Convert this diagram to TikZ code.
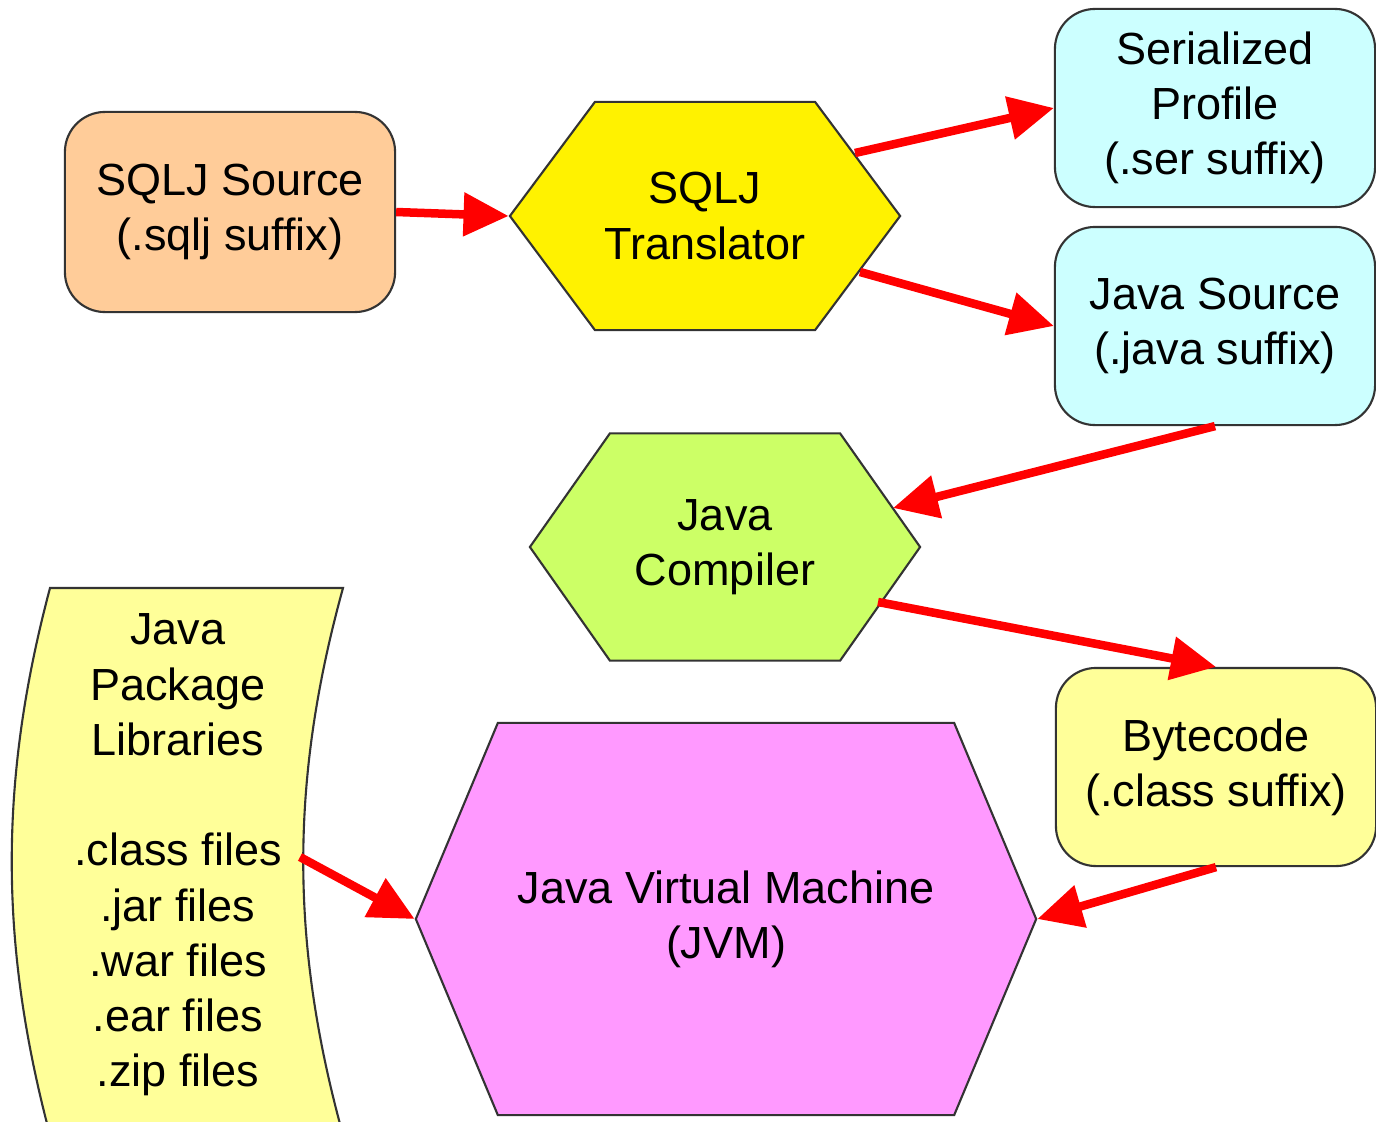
\documentclass[tikz,border=0pt]{standalone}
\usepackage{fontspec}
\setmainfont{Liberation Sans}
\usetikzlibrary{shapes.symbols,arrows.meta,calc}

\definecolor{Peach}{HTML}{FFCC99}
\definecolor{PaleCyan}{HTML}{CCFFFF}
\definecolor{PaleYellow}{HTML}{FFFF99}
\definecolor{LimeGreen}{HTML}{CCFF66}
\definecolor{Pink}{HTML}{FF99FF}
\definecolor{Edge}{HTML}{333333}

\begin{document}
\begin{tikzpicture}[x=0.01cm,y=-0.01cm,
    every node/.style={font=\fontsize{12.8}{15.7}\selectfont,align=center,inner sep=0pt},
    file/.style={draw=Edge,line width=0.6pt,rounded corners=0.4cm,minimum width=3.2cm,minimum height=1.98cm},
    tool/.style={draw=Edge,line width=0.6pt,shape=signal,signal to=east and west},
    flow/.style={red,line width=0.085cm,-{Triangle[length=0.45cm,width=0.42cm]}}]
  \useasboundingbox (0,0) rectangle (1376,1121);

  \node (src) [file,fill=Peach,minimum width=3.3cm,minimum height=2cm] at (230,212) {SQLJ Source\\(.sqlj suffix)};
  \node (tr) [tool,fill=yellow,minimum width=3.9cm,minimum height=2.28cm,signal pointer angle=106.6] at (705,216) {SQLJ\\Translator};
  \node (ser) [file,fill=PaleCyan] at (1215,108) {Serialized\\Profile\\(.ser suffix)};
  \node (jsrc) [file,fill=PaleCyan] at (1215,326) {Java Source\\(.java suffix)};
  \node (comp) [tool,fill=LimeGreen,minimum width=3.9cm,minimum height=2.27cm,signal pointer angle=109.7] at (725,547) {Java\\Compiler};
  \node (byte) [file,fill=PaleYellow] at (1216,767) {Bytecode\\(.class suffix)};
  \node (jvm) [tool,fill=Pink,minimum width=6.2cm,minimum height=3.92cm,signal pointer angle=134.6] at (726,919) {Java Virtual Machine\\(JVM)};

  % libraries sheet, cut off at the bottom
  \draw[draw=Edge,line width=0.6pt,fill=PaleYellow] (50,588) -- (343,588)
    .. controls (290,780) and (290,943) .. (343,1135) -- (50,1135)
    .. controls (-1,943) and (-1,780) .. cycle;
  \node (lib) at (178,855) {Java\\Package\\Libraries\\ \\.class files\\.jar files\\.war files\\.ear files\\.zip files};

  \draw[flow] (src.east) -- (tr.west);
  \draw[flow] ($(tr.center)+(150,-63)$) -- (ser.west);
  \draw[flow] ($(tr.center)+(155,56)$) -- (jsrc.west);
  \draw[flow] (jsrc.south) -- ($(comp.center)+(168,-39)$);
  \draw[flow] ($(comp.center)+(153,55)$) -- (byte.north);
  \draw[flow] ($(lib.center)+(122,2)$) -- (jvm.west);
  \draw[flow] (byte.south) -- (jvm.east);
\end{tikzpicture}
\end{document}
